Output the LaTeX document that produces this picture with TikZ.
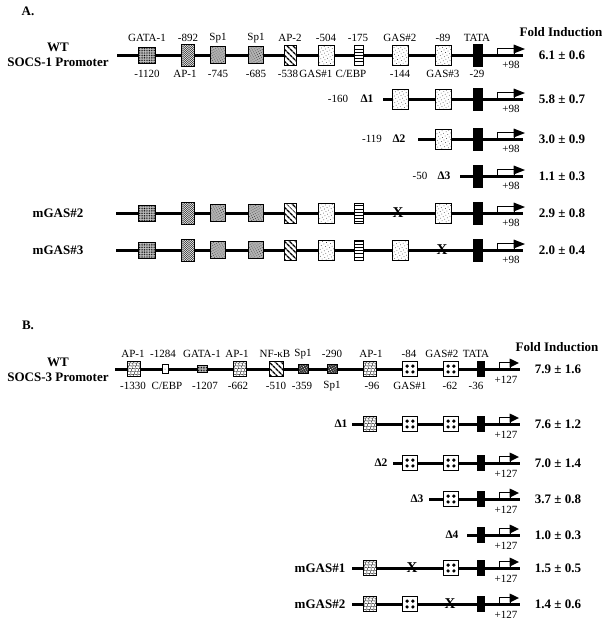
\documentclass[tikz,border=0pt]{standalone}
\usepackage{fontspec}
\setmainfont{Liberation Serif}
\usetikzlibrary{patterns.meta,decorations.pathmorphing}

% start site arrow: #1 x of bend, #2 line y, #3 body length, #4 head length
\newcommand{\startsite}[4]{%
  \filldraw[fill=white,line width=0.6pt] (#1,#2) rectangle (#1+#3,#2-7);
  \fill (#1+#3-0.3,#2-10.5) -- (#1+#3+#4,#2-6) -- (#1+#3-0.3,#2-1.5) -- cycle;}

\tikzset{
  dna/.style={line width=3pt},
  lab/.style={font=\fontsize{11}{13}\selectfont, inner sep=0pt},
  big/.style={font=\fontsize{13}{15}\selectfont\bfseries, inner sep=0pt, align=center},
  del/.style={font=\fontsize{11.5}{13}\selectfont\bfseries, inner sep=0pt},
  mut/.style={font=\fontsize{15}{16}\selectfont\bfseries, inner sep=0pt},
  site/.style={draw, line width=0.6pt, inner sep=0pt, outer sep=0pt, preaction={fill=white}},
  % SOCS-1 elements
  gataA/.style={site, minimum width=17pt, minimum height=16pt, preaction={fill=gray!45},
    pattern={Dots[radius=0.55pt,distance=1.7pt]}},
  wavyA/.style={site, minimum width=13pt, minimum height=22pt,
    path picture={\foreach \k in {-6,...,6}
      \draw[gray!40!black, line width=0.45pt, decorate,
        decoration={zigzag,segment length=2.4pt,amplitude=0.8pt}]
        ([xshift=-8pt,yshift=\k*2pt]path picture bounding box.center) -- ++(16pt,0pt);}},
  spA/.style={site, minimum width=15pt, minimum height=17pt, preaction={fill=gray!60},
    pattern={Dots[radius=0.45pt,distance=2.2pt,angle=30]}, pattern color=black!80},
  stripeA/.style={site, minimum width=12pt, minimum height=20pt,
    pattern={Lines[angle=-45,distance=4pt,line width=1.5pt]}},
  gasA/.style={site, minimum width=16pt, minimum height=20pt,
    pattern={Dots[radius=0.45pt,distance=3pt,angle=30]}, pattern color=gray!50!black},
  cebpA/.style={site, minimum width=9pt, minimum height=20pt,
    pattern={Lines[angle=0,distance=3.2pt,line width=0.7pt]}},
  tataA/.style={site, fill=black, minimum width=9pt, minimum height=22pt},
  % SOCS-3 elements
  apB/.style={site, minimum width=13pt, minimum height=15pt,
    path picture={\foreach \k in {-4,...,4}
      \draw[gray!30!black, line width=0.45pt, decorate,
        decoration={snake,segment length=4pt,amplitude=0.9pt}]
        ([xshift=\k*3.5pt-9pt,yshift=9pt]path picture bounding box.center) -- ++(18pt,-18pt);}},
  cebpB/.style={site, minimum width=6pt, minimum height=9pt,
    path picture={\fill[gray!70!black] (path picture bounding box.center) circle (0.5pt);}},
  gataB/.style={site, minimum width=10pt, minimum height=7pt, preaction={fill=gray!45},
    pattern={Dots[radius=0.55pt,distance=1.6pt]}},
  nfB/.style={site, minimum width=14pt, minimum height=15pt,
    pattern={Lines[angle=-45,distance=4pt,line width=1.5pt]}},
  spB/.style={site, minimum width=10pt, minimum height=9pt, preaction={fill=black!80},
    pattern={Dots[radius=0.5pt,distance=2pt,angle=30]}, pattern color=white},
  gasB/.style={site, minimum width=15pt, minimum height=15pt,
    path picture={\foreach \dx/\dy in {-1/-1,-1/1,1/-1,1/1}
      \fill ([xshift=\dx*2.9pt,yshift=\dy*2.9pt]path picture bounding box.center) circle (1.8pt);}},
  tataB/.style={site, fill=black, minimum width=7pt, minimum height=15pt}
}

\begin{document}
\begin{tikzpicture}[x=1pt,y=-1pt]
  \useasboundingbox (0,0) rectangle (614,625);

  % ===== A. SOCS-1 promoter =====
  \node[big] (ta) at (28,11) {A.};
  \node[big] (fia) at (561,32) {Fold Induction};
  \node[big] (wta) at (58,55) {WT\\SOCS-1 Promoter};
  \node[big] (m2a) at (58,213) {mGAS\#2};
  \node[big] (m3a) at (58,250) {mGAS\#3};
  \node[lab] (n1a) at (338,99) {-160};  \node[del] (d1a) at (367,99) {Δ1};
  \node[lab] (n2a) at (372,139) {-119}; \node[del] (d2a) at (399,139) {Δ2};
  \node[lab] (n3a) at (420,176) {-50};  \node[del] (d3a) at (444,176) {Δ3};

  % start sites and promoter lines
  \foreach \y/\xs/\n in {55/117/0,99/383/1,139/418/2,176/460/3,213/116/4,250/116/5}{
    \startsite{497}{\y}{17}{11}
    \coordinate (as\n) at (\xs,\y);
    \coordinate (ae\n) at (523,\y);
    \draw[dna] (as\n) -- (ae\n);
    \node[lab] (pa\n) at (511,\y+10) {+98};
  }

  % full length constructs
  \foreach \y/\n in {55/0,213/4,250/5}{
    \node[gataA] (gata\n) at (147,\y) {};
    \node[wavyA] (apone\n) at (188,\y) {};
    \node[spA] (spa\n) at (218,\y) {};
    \node[spA] (spb\n) at (256,\y) {};
    \node[stripeA] (aptwo\n) at (290,\y) {};
    \node[gasA] (gasone\n) at (326,\y) {};
    \node[cebpA] (cebp\n) at (359,\y) {};
  }
  \foreach \y/\n in {55/0,99/1,250/5}
    \node[gasA] (gastwo\n) at (400,\y) {};
  \foreach \y/\n in {55/0,99/1,139/2,213/4}
    \node[gasA] (gasthree\n) at (443,\y) {};
  \foreach \y/\n in {55/0,99/1,139/2,176/3,213/4,250/5}
    \node[tataA] (tata\n) at (478,\y) {};
  \node[mut] (xa4) at (398,213) {X};
  \node[mut] (xa5) at (442,250) {X};

  % site labels
  \foreach \x/\t [count=\i] in {147/GATA-1,188/-892,218/Sp1,256/Sp1,290/AP-2,
      326/-504,358/-175,400/GAS\#2,443/-89,477/TATA}
    \node[lab] (ua\i) at (\x,38) {\t};
  \foreach \x/\t [count=\i] in {147/-1120,185/AP-1,218/-745,256/-685,288/-538,
      316/GAS\#1,351/{C/EBP},400/-144,443/GAS\#3,477/-29}
    \node[lab] (la\i) at (\x,74) {\t};

  % fold induction
  \foreach \y/\v [count=\i] in {55/6.1 ± 0.6,99/5.8 ± 0.7,139/3.0 ± 0.9,
      176/1.1 ± 0.3,213/2.9 ± 0.8,250/2.0 ± 0.4}
    \node[big] (va\i) at (562,\y) {\v};

  % ===== B. SOCS-3 promoter =====
  \node[big] (tb) at (28,325) {B.};
  \node[big] (fib) at (557,347) {Fold Induction};
  \node[big] (wtb) at (58,370) {WT\\SOCS-3 Promoter};
  \node[big] (m1b) at (320,568) {mGAS\#1};
  \node[big] (m2b) at (320,604) {mGAS\#2};
  \node[del] (d1b) at (341,424) {Δ1};
  \node[del] (d2b) at (381,463) {Δ2};
  \node[del] (d3b) at (417,499) {Δ3};
  \node[del] (d4b) at (452,535) {Δ4};

  % start sites and promoter lines
  \foreach \y/\xs/\n in {369/115/0,424/352/1,463/393/2,499/429/3,535/467/4,568/352/5,604/352/6}{
    \startsite{499}{\y}{11}{9}
    \coordinate (bs\n) at (\xs,\y);
    \coordinate (be\n) at (520,\y);
    \draw[dna] (bs\n) -- (be\n);
    \node[lab] (pb\n) at (506,\y+11) {+127};
  }

  % wild type sites
  \node[apB] (bap1) at (134,369) {};
  \node[cebpB] (bcebp) at (165,369) {};
  \node[gataB] (bgata) at (202,369) {};
  \node[apB] (bap2) at (240,369) {};
  \node[nfB] (bnf) at (276,369) {};
  \node[spB] (bsp1) at (303,369) {};
  \node[spB] (bsp2) at (332,369) {};
  \foreach \y/\n in {369/0,424/1,568/5,604/6}
    \node[apB] (bap\n) at (370,\y) {};
  \foreach \y/\n in {369/0,424/1,463/2,604/6}
    \node[gasB] (bgasone\n) at (410,\y) {};
  \foreach \y/\n in {369/0,424/1,463/2,499/3,568/5}
    \node[gasB] (bgastwo\n) at (451,\y) {};
  \foreach \y/\n in {369/0,424/1,463/2,499/3,535/4,568/5,604/6}
    \node[tataB] (btata\n) at (481,\y) {};
  \node[mut] (xb5) at (412,568) {X};
  \node[mut] (xb6) at (450,604) {X};

  % site labels
  \foreach \x/\t [count=\i] in {133/AP-1,163/-1284,202/GATA-1,237/AP-1,275/NF-κB,
      303/Sp1,332/-290,371/AP-1,409/-84,442/GAS\#2,476/TATA}
    \node[lab] (ub\i) at (\x,354) {\t};
  \foreach \x/\t [count=\i] in {133/-1330,167/{C/EBP},205/-1207,238/-662,276/-510,
      302/-359,332/Sp1,372/-96,410/GAS\#1,450/-62,476/-36}
    \node[lab] (lb\i) at (\x,386) {\t};

  % fold induction
  \foreach \y/\v [count=\i] in {369/7.9 ± 1.6,424/7.6 ± 1.2,463/7.0 ± 1.4,499/3.7 ± 0.8,
      535/1.0 ± 0.3,568/1.5 ± 0.5,604/1.4 ± 0.6}
    \node[big] (vb\i) at (558,\y) {\v};
\end{tikzpicture}
\end{document}
